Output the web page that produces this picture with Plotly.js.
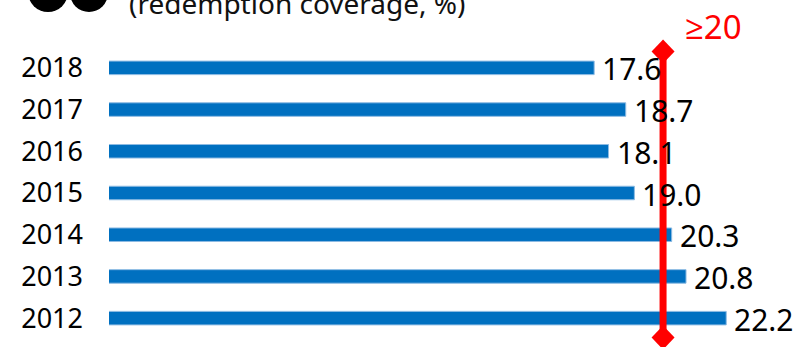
<!DOCTYPE html>
<html>
<head>
<meta charset="utf-8">
<script src="https://cdn.plot.ly/plotly-3.0.1.min.js"></script>
<style>html,body{margin:0;padding:0;background:#fff;}#chart{width:806px;height:347px;}</style>
</head>
<body>
<div id="chart"></div>
<script>
// Data
var years = [2012, 2013, 2014, 2015, 2016, 2017, 2018];
var yearLabels = ['2012', '2013', '2014', '2015', '2016', '2017', '2018'];
var coverage = [22.2, 20.8, 20.3, 19.0, 18.1, 18.7, 17.6];
var labels = ['22.2', '20.8', '20.3', '19.0', '18.1', '18.7', '17.6'];
var threshold = 20;
var thresholdLabel = '≥20';
var subtitle = '(redemption coverage, %)';

var FONT = 'Noto Sans, Open Sans, sans-serif';

var bars = {
  type: 'bar',
  orientation: 'h',
  x: coverage,
  y: years,
  marker: {color: '#0070C0', line: {color: '#8DBBE3', width: 1}},
  hoverinfo: 'x+y'
};

var annotations = years.map(function (yr, i) {
  return {
    x: coverage[i], y: yr, xref: 'x', yref: 'y',
    text: labels[i], showarrow: false,
    xanchor: 'left', yanchor: 'middle', xshift: 6, yshift: -1,
    font: {family: FONT, size: 30, color: '#000'}
  };
});
annotations.push({
  x: threshold, xref: 'x', y: 1, yref: 'paper',
  text: thresholdLabel, showarrow: false,
  xanchor: 'left', yanchor: 'middle', xshift: 20, yshift: 21,
  font: {family: FONT, size: 33, color: '#FF0000'}
});
annotations.push({
  x: 0, xref: 'paper', y: 1, yref: 'paper',
  text: subtitle, showarrow: false,
  xanchor: 'left', yanchor: 'middle', xshift: 18, yshift: 44,
  font: {family: FONT, size: 28, color: '#111'}
});

var shapes = [
  // threshold line
  {type: 'line', xref: 'x', x0: threshold, x1: threshold,
   yref: 'paper', ysizemode: 'pixel', yanchor: 0, y0: 1.4, y1: 288,
   line: {color: '#FF0000', width: 7}, layer: 'above'},
  // top diamond
  {type: 'path', xref: 'x', xsizemode: 'pixel', xanchor: threshold,
   yref: 'paper', ysizemode: 'pixel', yanchor: 1,
   path: 'M 0,7.5 L 11.5,-4.5 L 0,-16.5 L -11.5,-4.5 Z',
   fillcolor: '#FF0000', line: {width: 0}, layer: 'above'},
  // bottom diamond
  {type: 'path', xref: 'x', xsizemode: 'pixel', xanchor: threshold,
   yref: 'paper', ysizemode: 'pixel', yanchor: 0,
   path: 'M 0,13.4 L 11.5,1.4 L 0,-10.6 L -11.5,1.4 Z',
   fillcolor: '#FF0000', line: {width: 0}, layer: 'above'},
  // header circles
  {type: 'circle', xref: 'paper', xsizemode: 'pixel', xanchor: 0, x0: -81, x1: -41,
   yref: 'paper', ysizemode: 'pixel', yanchor: 1, y0: 35, y1: 75,
   fillcolor: '#000', line: {width: 0}},
  {type: 'circle', xref: 'paper', xsizemode: 'pixel', xanchor: 0, x0: -39, x1: -1,
   yref: 'paper', ysizemode: 'pixel', yanchor: 1, y0: 35, y1: 73,
   fillcolor: '#000', line: {width: 0}}
];

var layout = {
  width: 806, height: 347,
  margin: {l: 109, r: 6, t: 47, b: 8, pad: 0},
  paper_bgcolor: '#fff', plot_bgcolor: '#fff',
  showlegend: false,
  bargap: 0.676,
  xaxis: {range: [0.7, 24.77], visible: false, fixedrange: true},
  yaxis: {type: 'linear', range: [2011.5, 2018.5],
          tickmode: 'array', tickvals: years, ticktext: yearLabels,
          showgrid: false, zeroline: false, showline: false, ticks: '',
          ticklabelstandoff: 25,
          tickfont: {family: FONT, size: 27, color: '#000'}, fixedrange: true},
  annotations: annotations,
  shapes: shapes
};

Plotly.newPlot('chart', [bars], layout, {displayModeBar: false, staticPlot: true});
</script>
</body>
</html>
